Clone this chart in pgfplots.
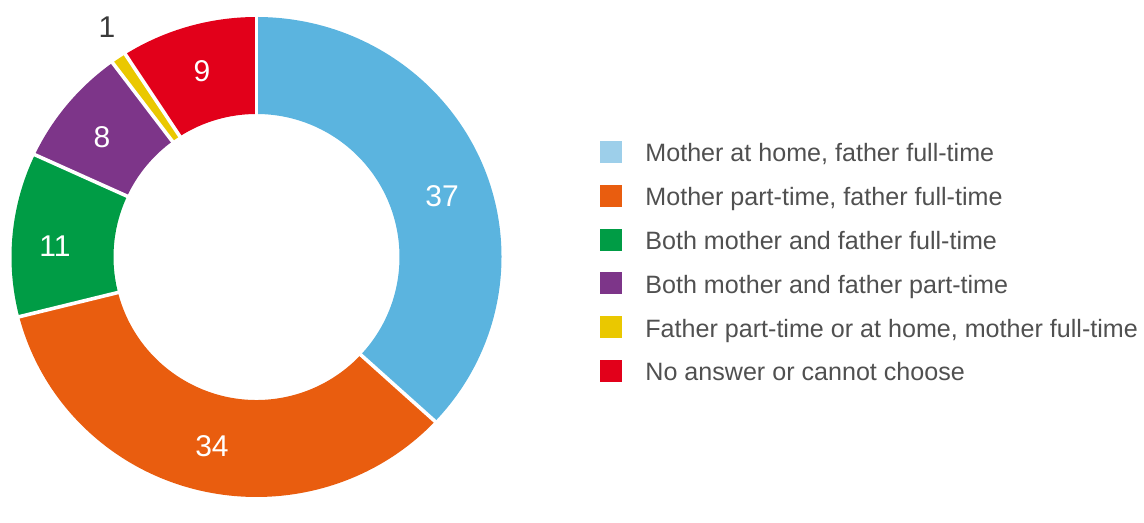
\documentclass[border=0pt]{standalone}
\usepackage{pgfplots}
\pgfplotsset{compat=1.18}
\usepackage{pgfplotstable}
\usepackage{fontspec}
\setmainfont{Liberation Sans}

\definecolor{col0}{HTML}{5BB4DF}
\definecolor{col1}{HTML}{E95D0F}
\definecolor{col2}{HTML}{009C45}
\definecolor{col3}{HTML}{7D3589}
\definecolor{col4}{HTML}{EAC800}
\definecolor{col5}{HTML}{E2001A}
\definecolor{leg0}{HTML}{9DCFEA}
\definecolor{txtgray}{HTML}{505050}
\definecolor{numgray}{HTML}{3A3A3A}

% share (percent) of each answer, clockwise from 12 o'clock
\pgfplotstableread{
value
37
34
11
8
1
9
}\donutdata

\newcommand\computeangles{%
  \gdef\cumsum{0}%
  \pgfplotsforeachungrouped \i in {0,1,2,3,4,5}{%
    \pgfplotstablegetelem{\i}{value}\of\donutdata
    \pgfmathsetmacro\s{90-3.6*\cumsum}%
    \pgfmathsetmacro\newcum{\cumsum+\pgfplotsretval}%
    \pgfmathsetmacro\e{90-3.6*\newcum}%
    \expandafter\xdef\csname sa\i\endcsname{\s}%
    \expandafter\xdef\csname ea\i\endcsname{\e}%
    \xdef\cumsum{\newcum}%
  }%
}

\def\cx{256.5}
\def\cy{246}
\def\Rx{245}
\def\Ry{240}
\def\rr{143}

\begin{document}
\begin{tikzpicture}
\computeangles
\begin{axis}[x=0.5pt,y=0.5pt,xmin=0,xmax=1144,ymin=0,ymax=503,
  hide axis,scale only axis,clip=false]
\path (0,0) rectangle (1144,503);
\pgfplotsinvokeforeach{0,1,2,3,4,5}{
  \fill[col#1] ({\cx+\Rx*cos(\csname sa#1\endcsname)},{\cy+\Ry*sin(\csname sa#1\endcsname)})
    arc[start angle=\csname sa#1\endcsname, end angle=\csname ea#1\endcsname, x radius=122.5pt, y radius=120pt]
    -- ({\cx+\rr*cos(\csname ea#1\endcsname)},{\cy+\rr*sin(\csname ea#1\endcsname)})
    arc[start angle=\csname ea#1\endcsname, end angle=\csname sa#1\endcsname, radius=71.5pt]
    -- cycle;
}
\pgfplotsinvokeforeach{0,1,2,3,4,5}{
  \draw[white, line width=1.8pt]
    ({\cx+(\rr-3)*cos(\csname sa#1\endcsname)},{\cy+(\rr-3)*sin(\csname sa#1\endcsname)})
    -- ({\cx+(\Rx+4)*cos(\csname sa#1\endcsname)},{\cy+(\Ry+4)*sin(\csname sa#1\endcsname)});
}
% value labels
\begin{scope}[every node/.style={inner sep=0pt, font=\fontsize{15}{18}\selectfont}]
\node[text=white] at (442,307) {37};
\node[text=white] at (212,57) {34};
\node[text=white] at (55,257) {11};
\node[text=white] at (102,366) {8};
\node[text=white] at (202,432) {9};
\node[text=numgray] at (107,476) {1};
\end{scope}
% legend
\fill[leg0] (600,362) rectangle (622,340);
\fill[col1] (600,318.2) rectangle (622,296.2);
\fill[col2] (600,274.4) rectangle (622,252.4);
\fill[col3] (600,230.6) rectangle (622,208.6);
\fill[col4] (600,186.8) rectangle (622,164.8);
\fill[col5] (600,143) rectangle (622,121);
\begin{scope}[every node/.style={anchor=base west, inner sep=0pt, text=txtgray, font=\fontsize{12.55}{15}\selectfont}]
\node at (645,341) {Mother at home, father full-time};
\node at (645,297.2) {Mother part-time, father full-time};
\node at (645,253.4) {Both mother and father full-time};
\node at (645,209.6) {Both mother and father part-time};
\node at (645,165.8) {Father part-time or at home, mother full-time};
\node at (645,122) {No answer or cannot choose};
\end{scope}
\end{axis}
\end{tikzpicture}
\end{document}
